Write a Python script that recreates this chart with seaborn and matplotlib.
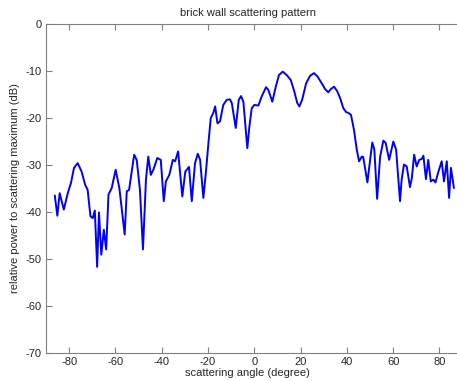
import numpy as np
import pandas as pd
import seaborn as sns
import matplotlib.pyplot as plt

# scattering angle (degree) and relative power (dB)
angle = [-86.2, -85.1, -84.1, -82.3, -80.6, -79.2, -77.9, -76.3, -74.6, -73.1,
         -72.0, -70.8, -69.8, -68.9, -67.9, -67.1, -66.1, -65.0, -64.0, -63.0,
         -61.6, -59.9, -58.3, -56.0, -55.1, -54.1, -51.9, -50.8, -49.4, -48.1,
         -46.8, -45.8, -44.7, -43.6, -41.9, -40.4, -39.1, -38.2, -36.7, -35.2,
         -34.2, -32.9, -31.1, -29.8, -28.2, -27.0, -25.6, -24.4, -23.4, -22.0,
         -20.8, -19.8, -18.8, -17.7, -16.9, -15.9, -14.8, -13.4, -11.9, -10.5,
         -9.7, -8.0, -6.7, -5.7, -4.7, -3.8, -3.0, -2.1, -1.1, 0.0,
         1.8, 3.2, 5.1, 6.1, 7.8, 9.3, 10.7, 12.3, 14.0, 15.8,
         17.3, 18.6, 19.5, 20.7, 22.4, 24.1, 25.8, 27.3, 29.2, 30.6,
         32.0, 33.1, 34.5, 35.9, 37.1, 38.5, 39.7, 40.7, 41.8, 43.1,
         44.3, 45.3, 46.5, 47.1, 48.9, 50.0, 51.0, 51.9, 53.1, 54.4,
         55.8, 56.8, 58.3, 60.1, 61.3, 63.0, 63.7, 64.7, 65.9, 67.3,
         68.1, 69.1, 70.2, 71.3, 72.4, 73.1, 74.2, 75.2, 76.3, 77.4,
         78.3, 79.6, 81.0, 82.0, 83.2, 84.2, 85.0, 86.3]
power = [-36.5, -40.8, -36.0, -39.5, -36.0, -33.8, -30.6, -29.6, -31.4, -34.2,
         -35.3, -40.9, -41.3, -39.7, -51.7, -40.1, -49.1, -43.8, -48.0, -36.3,
         -34.9, -31.0, -34.9, -44.8, -35.6, -35.3, -27.8, -28.9, -35.3, -48.0,
         -33.1, -28.2, -32.1, -31.0, -28.5, -28.9, -37.7, -33.5, -32.1, -28.9,
         -29.2, -27.1, -36.7, -31.4, -30.4, -37.7, -29.6, -27.6, -28.9, -37.0,
         -31.0, -25.3, -20.0, -18.9, -17.5, -21.1, -20.7, -17.2, -16.1, -16.0,
         -16.8, -22.1, -16.1, -15.3, -16.5, -21.8, -26.4, -21.8, -17.9, -17.2,
         -17.3, -15.4, -13.4, -14.0, -16.5, -13.3, -10.8, -10.1, -10.8, -11.9,
         -14.3, -16.8, -17.5, -16.1, -12.6, -11.0, -10.4, -11.1, -12.6, -13.8,
         -14.5, -13.8, -13.3, -14.3, -15.7, -17.9, -18.7, -18.9, -19.3, -22.5,
         -26.7, -29.2, -28.2, -28.3, -33.7, -29.2, -25.2, -26.7, -37.2, -28.2,
         -24.8, -25.3, -28.9, -25.0, -26.7, -37.7, -33.1, -29.9, -30.3, -34.7,
         -32.8, -27.8, -30.3, -28.9, -28.7, -28.0, -33.0, -28.9, -33.5, -33.1,
         -33.7, -31.4, -29.2, -33.5, -29.2, -37.0, -30.6, -34.9]

df = pd.DataFrame({'angle': angle, 'power': power})

sns.set_style('white')
plt.rcParams['font.family'] = ['Liberation Sans', 'DejaVu Sans']
plt.rcParams['axes.unicode_minus'] = False
grey = '#808080'

fig = plt.figure(figsize=(4.57, 3.81), dpi=100)
ax = fig.add_axes([46 / 457, 28.3 / 381, 416.5 / 457, 328.4 / 381])
sns.lineplot(data=df, x='angle', y='power', color='#0000ff', linewidth=1.4, ax=ax)

ax.set_xlim(-90, 90)
ax.set_ylim(-70, 0)
ax.set_xticks([-80, -60, -40, -20, 0, 20, 40, 60, 80])
ax.set_yticks([0, -10, -20, -30, -40, -50, -60, -70])
ax.tick_params(direction='in', length=4, width=0.8, color=grey, labelsize=8,
               top=True, right=True, bottom=True, left=True, pad=3)
for s in ax.spines.values():
    s.set_color(grey)
    s.set_linewidth(0.8)
    s.set_visible(True)

# reference centres the title/xlabel a bit left of the (cropped) axes middle
ax.set_title('brick wall scattering pattern', fontsize=8, pad=6, x=0.484)
ax.set_xlabel('scattering angle (degree)', fontsize=8)
ax.xaxis.set_label_coords(0.484, -0.047)
ax.xaxis.label.set_va('top')
ax.set_ylabel('relative power to scattering maximum (dB)', fontsize=8, labelpad=4)

fig.savefig('out.png', dpi=100)
